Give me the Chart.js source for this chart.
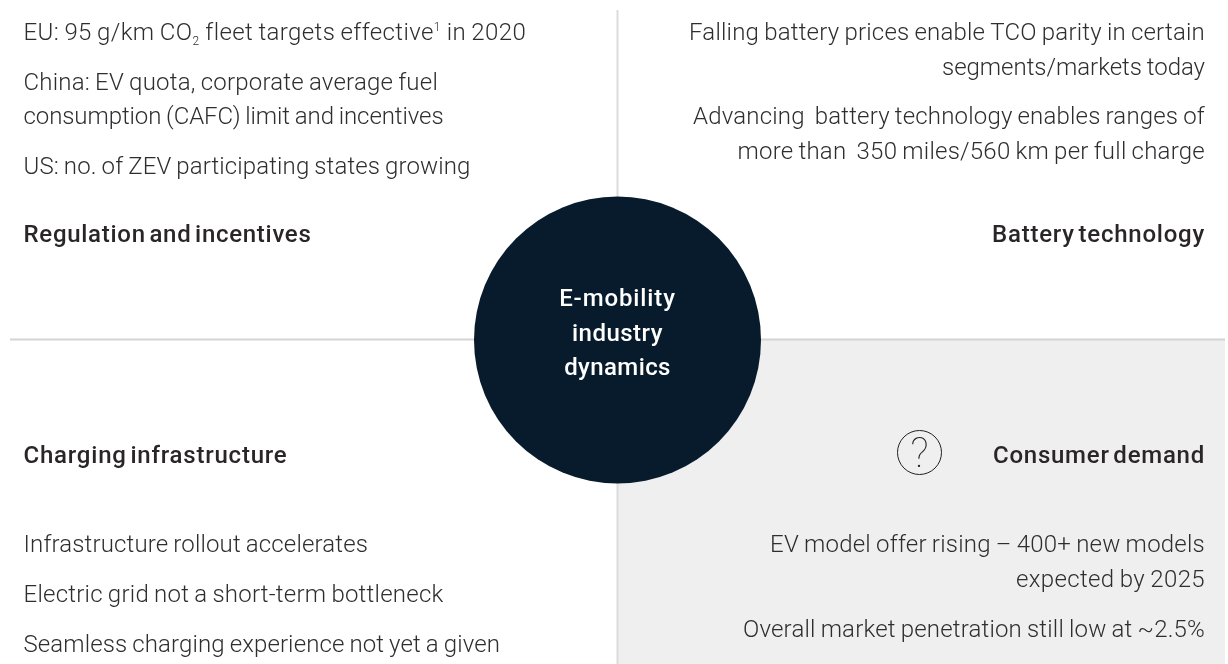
<!DOCTYPE html>
<html><head><meta charset="utf-8">
<style>html,body{margin:0;padding:0;background:#fff;overflow:hidden}canvas{display:block}</style>
<script src="https://cdn.jsdelivr.net/npm/chart.js@4"></script>
</head><body><canvas id="c" width="1228" height="664"></canvas>
<script>
const regulationItems = [
  [["EU: 95 g/km CO"],["2","sub"],[" fleet targets effective"],["1","sup"],[" in 2020"]],
  [["China: EV quota, corporate average fuel"]],
  [["consumption (CAFC) limit and incentives"]],
  [["US: no. of ZEV participating states growing"]]
];
const batteryItems = [
  "Falling battery prices enable TCO parity in certain",
  "segments/markets today",
  "Advancing  battery technology enables ranges of",
  "more than  350 miles/560 km per full charge"
];
const chargingItems = [
  "Infrastructure rollout accelerates",
  "Electric grid not a short-term bottleneck",
  "Seamless charging experience not yet a given"
];
const demandItems = [
  "EV model offer rising – 400+ new models",
  "expected by 2025",
  "Overall market penetration still low at ~2.5%"
];
const headings = ["Regulation and incentives","Battery technology","Charging infrastructure","Consumer demand"];
const centerLines = ["E-mobility","industry","dynamics"];

// layout
const W=1228,H=664,PANEL_R=1225;
const LEFT=23.5,RIGHT=1205,CX=617.5,CY=340;
const regBase=[40,90,124,174], batBase=[40,75,124,159], chgBase=[552,602,652], demBase=[552,587,637];
const headBase=[242,242,463,463], cenBase=[306,340.5,375];
const regWidth=[502,414.5,420,447], batWidth=[516,263,512,467.5], chgWidth=[344.5,420,476.5], demWidth=[435,189,462];
const headWidth=[288,213,264,212], cenWidth=[116.7,91,106.7];
const BODY='300 24px Roboto', HEAD='500 24px Roboto', SMALL='300 12px Roboto', COL='#2e2e31', HCOL='#2a2628';

const textPlugin={id:'txt',afterDatasetsDraw(ch){
  const c=ch.ctx,x=ch.scales.x,y=ch.scales.y;
  // letter spacing that makes a line span its measured width
  const spacing=(s,f,ws,target)=>{c.font=f;c.letterSpacing='0px';c.wordSpacing=ws+'px';return (target-c.measureText(s).width)/s.length;};
  const put=(s,px,py,al,f,col,ls,ws)=>{c.font=f;c.fillStyle=col;c.textAlign=al;c.textBaseline='alphabetic';c.letterSpacing=(ls||0)+'px';c.wordSpacing=(ws||0)+'px';c.fillText(s,x.getPixelForValue(px),y.getPixelForValue(py));};
  const line=(s,px,py,al,f,col,ws,target)=>put(s,px,py,al,f,col,spacing(s,f,ws,target),ws);
  c.save();
  regulationItems.forEach((runs,i)=>{
    const plain=runs.filter(r=>!r[1]).map(r=>r[0]).join('');
    const ls=spacing(plain,BODY,-1,regWidth[i]-(runs.length>1?15:0));
    let cur=LEFT;
    runs.forEach(([s,k])=>{
      const f=k?SMALL:BODY,dy=k==='sub'?5:k==='sup'?-9:0;
      put(s,cur,regBase[i]+dy,'left',f,COL,k?0:ls,k?0:-1);
      cur+=c.measureText(s).width+(k?1:0);
    });
  });
  batteryItems.forEach((s,i)=>line(s,RIGHT,batBase[i],'right',BODY,COL,-1,batWidth[i]));
  chargingItems.forEach((s,i)=>line(s,LEFT,chgBase[i],'left',BODY,COL,-1,chgWidth[i]));
  demandItems.forEach((s,i)=>line(s,RIGHT,demBase[i],'right',BODY,COL,-1,demWidth[i]));
  headings.forEach((s,i)=>line(s,i%2?RIGHT:LEFT,headBase[i],i%2?'right':'left',HEAD,HCOL,-3,headWidth[i]));
  centerLines.forEach((s,i)=>line(s,CX,cenBase[i],'center',HEAD,'#ffffff',0,cenWidth[i]));
  put('?',919.5,467,'center','100 42px Roboto','#222',0,0);
  c.restore();
}};

new Chart(document.getElementById('c'),{
  type:'scatter',
  data:{datasets:[
    {type:'bubble',order:1,data:[{x:CX,y:CY,r:143.5}],backgroundColor:'#081b2c',borderWidth:0},
    {type:'bubble',order:2,data:[{x:919.5,y:452.5,r:22}],backgroundColor:'rgba(0,0,0,0)',borderColor:'#222',borderWidth:1},
    {type:'line',order:3,data:[{x:10,y:339.5},{x:PANEL_R,y:339.5}],borderColor:'#d4d4d4',borderWidth:2,pointRadius:0},
    {type:'line',order:3,data:[{x:617.5,y:10},{x:617.5,y:H}],borderColor:'#dcdcdc',borderWidth:2,pointRadius:0},
    {type:'line',order:4,data:[{x:618,y:340},{x:PANEL_R,y:340}],borderWidth:0,pointRadius:0,backgroundColor:'#efefef',fill:'start'}
  ]},
  options:{
    responsive:false,animation:false,events:[],
    layout:{padding:0,autoPadding:false},
    plugins:{legend:{display:false},tooltip:{enabled:false},filler:{propagate:false}},
    scales:{
      x:{type:'linear',min:0,max:W,display:false},
      y:{type:'linear',min:0,max:H,reverse:true,display:false}
    }
  },
  plugins:[textPlugin]
});
</script></body></html>
